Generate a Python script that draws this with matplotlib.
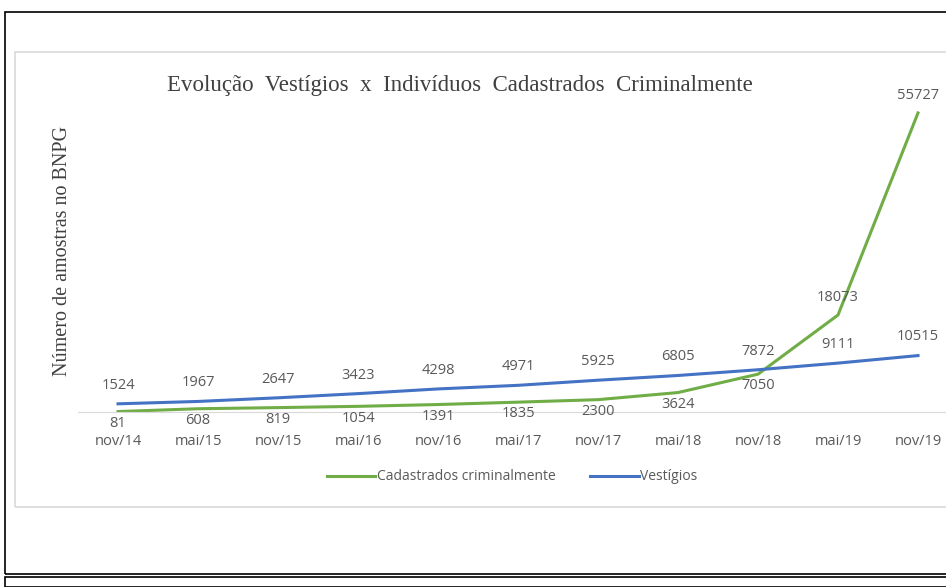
import matplotlib.pyplot as plt
from matplotlib.patches import Rectangle

periodos = ["nov/14", "mai/15", "nov/15", "mai/16", "nov/16", "mai/17",
            "nov/17", "mai/18", "nov/18", "mai/19", "nov/19"]
cadastrados = [81, 608, 819, 1054, 1391, 1835, 2300, 3624, 7050, 18073, 55727]
vestigios = [1524, 1967, 2647, 3423, 4298, 4971, 5925, 6805, 7872, 9111, 10515]

VERDE = "#70AD47"
AZUL = "#4472C4"
CINZA = "#595959"

fig = plt.figure(figsize=(9.46, 5.87), dpi=100)

# moldura externa preta e moldura do grafico
fig.patches.append(Rectangle((5/946, 1 - 574/587), 1.0, 562/587, transform=fig.transFigure,
                             fill=False, ec="black", lw=1.2))
fig.patches.append(Rectangle((5/946, 0), 1.0, 1 - 577/587, transform=fig.transFigure,
                             fill=False, ec="black", lw=1.2))
fig.patches.append(Rectangle((15/946, 1 - 507/587), 1.0, 455/587, transform=fig.transFigure,
                             fill=False, ec="#d9d9d9", lw=1.2))

ax = fig.add_axes([78/946, 1 - 412/587, 880/946, 322/587])
x = list(range(len(periodos)))
ax.plot(x, cadastrados, color=VERDE, lw=2.2, label="Cadastrados criminalmente")
ax.plot(x, vestigios, color=AZUL, lw=2.2, label="Vestígios")
ax.set_xlim(-0.5, len(periodos) - 0.5)
ax.set_ylim(0, 60000)

for i, v in enumerate(vestigios):
    ax.annotate(str(v), (i, v), xytext=(0, 8), textcoords="offset points",
                ha="center", va="bottom", fontsize=10.5, color=CINZA, family="Open Sans")
for i, v in enumerate(cadastrados):
    acima = i >= 9
    ax.annotate(str(v), (i, v), xytext=(0, 7 if acima else -3), textcoords="offset points",
                ha="center", va="bottom" if acima else "top", fontsize=10.5,
                color=CINZA, family="Open Sans")

ax.set_xticks(x)
ax.set_xticklabels(periodos, family="Open Sans", fontsize=10.5, color=CINZA)
ax.tick_params(axis="x", length=0, pad=16)
ax.set_yticks([])
for s in ["top", "right", "left"]:
    ax.spines[s].set_visible(False)
ax.spines["bottom"].set_color("#d9d9d9")

ax.set_ylabel("Número de amostras no BNPG", family="Liberation Serif", fontsize=14.5,
              color="#404040", labelpad=4)

fig.text(460/946, 1 - 85/587, "Evolução  Vestígios  x  Indivíduos  Cadastrados  Criminalmente",
         ha="center", va="center", family="Liberation Serif", fontsize=16.5, color="#404040")

fig.legend(loc="center", bbox_to_anchor=(512/946, 1 - 477/587), ncol=2, frameon=False,
           prop={"family": "Open Sans", "size": 10}, labelcolor=CINZA,
           handlelength=3.5, columnspacing=2.5, handletextpad=0.1)

fig.savefig("out.png", dpi=100)
